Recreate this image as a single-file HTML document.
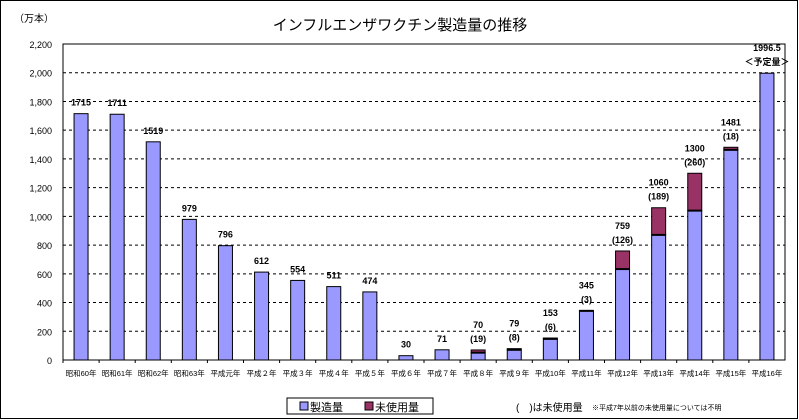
<!DOCTYPE html>
<html><head><meta charset="utf-8"><style>
body{margin:0;background:#fff}
svg{display:block;font-family:"Liberation Sans","Noto Sans CJK JP",sans-serif}
</style></head><body>
<svg width="799" height="420">
<rect x="0.5" y="0.5" width="797" height="418" fill="#fff" stroke="#000"/>
<text x="400" y="30" font-size="15" text-anchor="middle">インフルエンザワクチン製造量の推移</text>
<text x="14" y="22" font-size="10">（万本）</text>
<g id="grid"></g><g id="bars"></g><g id="labels"></g>
<rect x="63" y="44" width="722" height="316" fill="none" stroke="#000"/>
<g>
<rect x="287" y="398" width="146" height="16" fill="#fff" stroke="#000"/>
<rect x="300" y="402" width="8" height="8" fill="#9999ff" stroke="#000"/>
<text x="310" y="411" font-size="11">製造量</text>
<rect x="365" y="402" width="8" height="8" fill="#993366" stroke="#000"/>
<text x="375" y="411" font-size="11">未使用量</text>
</g>
<text x="516" y="411" font-size="10">(　)は未使用量</text>
<text x="592" y="410" font-size="7">※平成7年以前の未使用量については不明</text>
</svg>
<script>
const categories=["昭和60年","昭和61年","昭和62年","昭和63年","平成元年","平成２年","平成３年","平成４年","平成５年","平成６年","平成７年","平成８年","平成９年","平成10年","平成11年","平成12年","平成13年","平成14年","平成15年","平成16年"];
const totals=[1715,1711,1519,979,796,612,554,511,474,30,71,70,79,153,345,759,1060,1300,1481,1996.5];
const unused=[0,0,0,0,0,0,0,0,0,0,0,19,8,6,3,126,189,260,18,0];
const showUnused=[false,false,false,false,false,false,false,false,false,false,false,true,true,true,true,true,true,true,true,false];
const yTicks=[0,200,400,600,800,1000,1200,1400,1600,1800,2000,2200];
const tickLabels=["0","200","400","600","800","1,000","1,200","1,400","1,600","1,800","2,000","2,200"];
const ns="http://www.w3.org/2000/svg";
const X0=63,X1=785,Y0=360,Y1=44,YMAX=2200;
const y=v=>Y0-(v/YMAX)*(Y0-Y1);
const bw=(X1-X0)/categories.length;
const xc=i=>X0+bw*(i+0.5);
function mk(tag,attrs,parent){const e=document.createElementNS(ns,tag);for(const k in attrs)e.setAttribute(k,attrs[k]);parent.appendChild(e);return e;}
const grid=document.getElementById('grid'),bars=document.getElementById('bars'),labels=document.getElementById('labels');
yTicks.forEach((t,i)=>{
 if(t>0&&t<YMAX){const l=mk('line',{x1:X0,x2:X1,y1:y(t),y2:y(t),stroke:'#000','stroke-dasharray':'3,3','stroke-width':1},grid);
 
 }
 const tx=mk('text',{x:52,y:y(t)+4,'font-size':9,'text-anchor':'end'},grid);tx.textContent=tickLabels[i];
 
 
});
categories.forEach((c,i)=>{
 const tk=mk('line',{x1:X0+bw*i,x2:X0+bw*i,y1:Y0,y2:Y0+3,stroke:'#000'},grid);
 
 
 const prod=totals[i]-unused[i];
 const x=xc(i)-7;
 const b=mk('rect',{x:x,y:y(prod),width:14,height:Y0-y(prod),fill:'#9999ff',stroke:'#000'},bars);
 
 
 if(unused[i]>0){const u=mk('rect',{x:x,y:y(totals[i]),width:14,height:y(prod)-y(totals[i]),fill:'#993366',stroke:'#000'},bars);
 
 
 mk('line',{x1:x,x2:x+14,y1:y(prod),y2:y(prod),stroke:'#000','stroke-width':2},bars);}
 const xl=mk('text',{x:xc(i),y:376,'font-size':7.5,'text-anchor':'middle'},labels);xl.textContent=c;
 
 
 const top=y(totals[i]);
 const two=showUnused[i]||i===categories.length-1;
 const v=mk('text',{x:xc(i),y:top-(two?22:8),'font-size':9,'font-weight':'bold','text-anchor':'middle'},labels);v.textContent=totals[i];
 
 
 if(two){const s=mk('text',{x:xc(i),y:top-8,'font-size':9,'font-weight':'bold','text-anchor':'middle'},labels);
 s.textContent=i===categories.length-1?'＜予定量＞':'('+unused[i]+')';
 
 }
});
</script>
</body></html>
